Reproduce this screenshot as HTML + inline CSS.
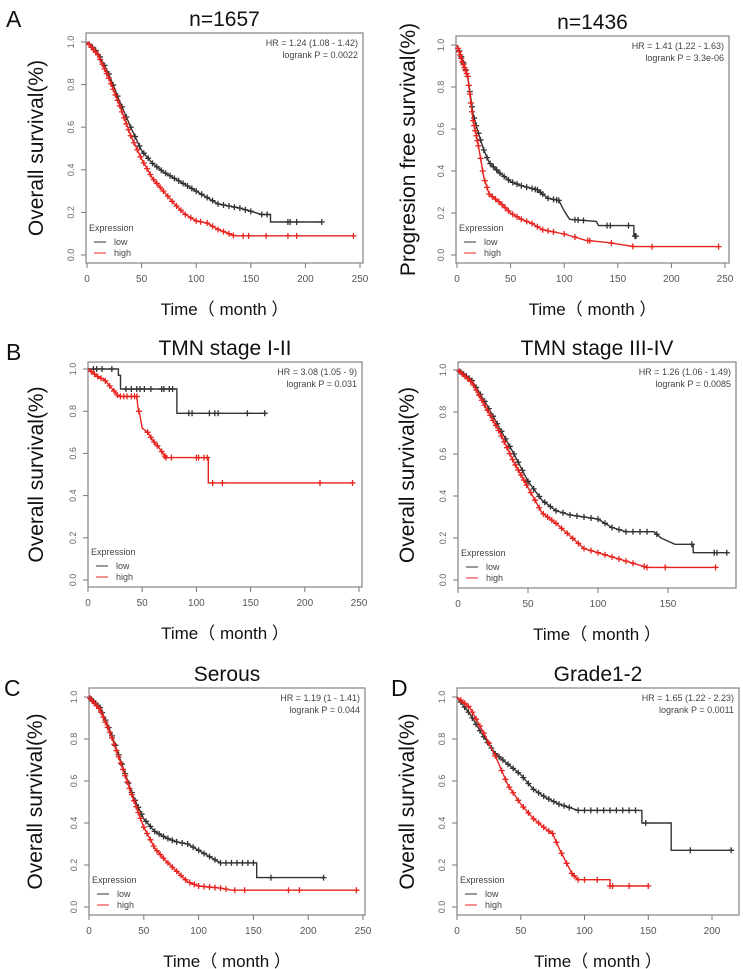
<!DOCTYPE html>
<html><head><meta charset="utf-8"><style>
html,body{margin:0;padding:0;background:#fff;}
svg{display:block;font-family:"Liberation Sans","Noto Sans CJK SC",sans-serif;}
</style></head><body>
<svg id="fig" width="743" height="969" viewBox="0 0 743 969" xmlns="http://www.w3.org/2000/svg"></svg>
<script>
// ---- Data (time in months, survival proportion) ----
const a1LowT=[0,10,20,30,40,50,60,70,80,90,100,110,120,140,160,168,168,215];
const a1LowS=[1,0.95,0.85,0.72,0.6,0.49,0.43,0.39,0.36,0.33,0.3,0.27,0.24,0.22,0.19,0.19,0.155,0.155];
const a1HighT=[0,10,20,30,40,50,60,70,80,90,100,110,120,130,135,244];
const a1HighS=[1,0.94,0.83,0.7,0.56,0.45,0.36,0.3,0.24,0.19,0.16,0.15,0.12,0.1,0.09,0.09];
const a1LowC=[2,5,8,12,16,20,24,28,32,36,40,44,48,52,56,60,64,68,72,76,80,84,88,92,96,100,105,110,115,120,125,130,135,140,145,150,160,165,184,186,192,215];
const a1HighC=[2,4,6,8,10,12,14,16,18,20,22,24,26,28,30,32,34,36,38,40,43,46,49,52,55,58,61,64,67,70,74,78,82,86,90,95,100,104,110,115,120,125,130,134,143,148,164,184,192,244];

const a2LowT=[0,5,10,15,20,25,30,40,50,60,75,85,95,100,105,130,132,165,165,167];
const a2LowS=[1,0.93,0.85,0.67,0.58,0.5,0.44,0.39,0.35,0.33,0.31,0.27,0.26,0.21,0.17,0.16,0.14,0.14,0.09,0.09];
const a2HighT=[0,5,10,15,20,25,30,40,50,60,70,80,100,120,140,165,244];
const a2HighS=[1,0.92,0.85,0.64,0.52,0.37,0.29,0.25,0.2,0.17,0.15,0.12,0.1,0.07,0.06,0.04,0.04];
const a2LowC=[2,4,6,8,10,12,14,16,18,20,22,25,28,31,34,37,40,44,48,52,56,60,65,70,73,75,78,80,85,90,93,95,110,113,118,140,143,160,166,167];
const a2HighC=[1,2,3,4,5,6,7,8,9,10,11,12,13,14,15,16,17,18,19,20,22,24,26,28,30,33,36,39,42,45,48,52,56,60,65,70,75,80,85,90,100,110,122,124,144,164,182,244];

const b1LowT=[0,28,28,30,30,82,82,163];
const b1LowS=[1,1,0.97,0.97,0.905,0.905,0.79,0.79];
const b1HighT=[0,5,10,15,20,25,28,45,46,48,50,55,60,65,72,111,111,244];
const b1HighS=[1,0.98,0.96,0.95,0.92,0.89,0.87,0.87,0.82,0.78,0.72,0.7,0.66,0.63,0.58,0.58,0.46,0.46];
const b1LowC=[5,8,13,22,35,40,45,48,52,58,68,70,75,78,93,96,112,117,120,147,163];
const b1HighC=[3,6,9,12,16,20,24,27,30,33,36,40,43,45,47,55,58,61,64,68,71,72,77,100,102,107,110,115,124,214,244];

const b2LowT=[0,10,20,30,40,50,60,70,80,100,110,120,140,145,155,168,168,192];
const b2LowS=[1,0.95,0.84,0.72,0.6,0.47,0.38,0.33,0.31,0.29,0.25,0.23,0.23,0.2,0.17,0.17,0.13,0.13];
const b2HighT=[0,10,20,30,40,50,60,70,80,90,100,110,120,130,135,184];
const b2HighS=[1,0.94,0.82,0.7,0.56,0.44,0.32,0.27,0.21,0.15,0.13,0.11,0.09,0.07,0.06,0.06];
const b2LowC=[2,4,6,8,10,13,16,19,22,25,28,31,34,37,40,43,46,50,54,58,62,66,70,75,80,85,90,95,100,105,110,115,120,125,130,135,142,167,183,185,192];
const b2HighC=[1,3,5,7,9,11,13,15,17,19,21,23,25,27,29,31,33,35,37,39,41,43,45,47,49,52,55,58,61,64,67,70,74,78,82,86,90,95,100,105,110,115,120,125,133,135,148,184];

const cLowT=[0,10,20,30,40,50,60,70,80,90,100,110,120,153,153,215];
const cLowS=[1,0.95,0.83,0.68,0.53,0.42,0.36,0.33,0.31,0.3,0.27,0.24,0.21,0.21,0.14,0.14];
const cHighT=[0,10,20,30,40,50,60,70,80,90,100,120,130,244];
const cHighS=[1,0.94,0.82,0.67,0.52,0.38,0.28,0.22,0.17,0.12,0.1,0.09,0.08,0.08];
const cLowC=[2,4,6,8,10,12,15,18,21,24,27,30,33,36,39,42,45,48,52,56,60,64,68,72,76,80,85,90,95,100,105,110,115,120,125,130,135,140,145,150,166,214];
const cHighC=[1,3,5,7,9,11,13,15,17,19,21,23,25,27,29,31,33,35,37,39,41,43,45,47,50,53,56,59,62,65,68,72,76,80,84,88,92,96,100,105,110,115,120,125,133,142,182,192,244];

const dLowT=[0,10,20,30,40,50,60,70,80,90,95,145,145,168,168,215];
const dLowS=[1,0.92,0.82,0.73,0.68,0.63,0.56,0.52,0.49,0.47,0.46,0.46,0.4,0.4,0.27,0.27];
const dHighT=[0,10,20,30,40,50,60,70,75,80,85,90,95,120,120,150];
const dHighS=[1,0.95,0.84,0.72,0.58,0.49,0.42,0.37,0.35,0.28,0.22,0.16,0.13,0.13,0.1,0.1];
const dLowC=[3,6,9,12,15,18,21,24,27,30,33,36,40,44,48,52,56,60,64,68,72,76,80,84,88,95,100,105,110,115,120,125,130,135,140,148,183,215];
const dHighC=[3,6,9,12,15,18,21,25,30,35,38,41,44,48,52,56,60,64,68,72,75,78,82,86,90,92,95,100,110,120,122,135,150];

const xTicksA=[0,50,100,150,200,250];
const xTicksB2=[0,50,100,150];
const xTicksD=[0,50,100,150,200];
const yTicks=[0,0.2,0.4,0.6,0.8,1.0];
const titles=["n=1657","n=1436","TMN stage I-II","TMN stage III-IV","Serous","Grade1-2"];
const hrTexts=["HR = 1.24 (1.08 - 1.42)","HR = 1.41 (1.22 - 1.63)","HR = 3.08 (1.05 - 9)","HR = 1.26 (1.06 - 1.49)","HR = 1.19 (1 - 1.41)","HR = 1.65 (1.22 - 2.23)"];
const pTexts=["logrank P = 0.0022","logrank P = 3.3e-06","logrank P = 0.031","logrank P = 0.0085","logrank P = 0.044","logrank P = 0.0011"];

// ---- Layout ----
const NS="http://www.w3.org/2000/svg";
const svg=document.getElementById('fig');
function mk(tag,attrs,parent,text){
  const e=document.createElementNS(NS,tag);
  for(const k in attrs)e.setAttribute(k,attrs[k]);
  if(text!==undefined)e.textContent=text;
  (parent||svg).appendChild(e);return e;
}
const panels=[
 {box:[86,33,363,263],x0:87,x1:360,xmax:250,y1:42,y0:255,ticks:xTicksA,ylab:"Overall survival(%)",ylx:43,d:[a1LowT,a1LowS,a1LowC,a1HighT,a1HighS,a1HighC],letter:"A",lx:6,ly:27,name:"panel-a-overall"},
 {box:[456,36,729,263],x0:457,x1:725,xmax:250,y1:45,y0:255,ticks:xTicksA,ylab:"Progresion free survival(%)",ylx:415,d:[a2LowT,a2LowS,a2LowC,a2HighT,a2HighS,a2HighC],name:"panel-a-pfs"},
 {box:[88,362,362,587],x0:88,x1:359,xmax:250,y1:369,y0:580,ticks:xTicksA,ylab:"Overall survival(%)",ylx:43,d:[b1LowT,b1LowS,b1LowC,b1HighT,b1HighS,b1HighC],letter:"B",lx:6,ly:360,name:"panel-b-stage12"},
 {box:[458,362,736,588],x0:458,x1:668,xmax:150,y1:370,y0:580,ticks:xTicksB2,ylab:"Overall survival(%)",ylx:414,d:[b2LowT,b2LowS,b2LowC,b2HighT,b2HighS,b2HighC],name:"panel-b-stage34"},
 {box:[89,688,365,915],x0:89,x1:363,xmax:250,y1:697,y0:907,ticks:xTicksA,ylab:"Overall survival(%)",ylx:42,d:[cLowT,cLowS,cLowC,cHighT,cHighS,cHighC],letter:"C",lx:4,ly:696,name:"panel-c-serous"},
 {box:[457,688,739,915],x0:457,x1:712,xmax:200,y1:697,y0:907,ticks:xTicksD,ylab:"Overall survival(%)",ylx:414,d:[dLowT,dLowS,dLowC,dHighT,dHighS,dHighC],letter:"D",lx:391,ly:696,name:"panel-d-grade12"}
];
function interp(T,S,t){
  for(let i=T.length-1;i>=0;i--){ if(T[i]<=t){ if(i===T.length-1)return S[i]; const t0=T[i],t1=T[i+1]; if(t1===t0)return S[i+1]; return S[i]+(S[i+1]-S[i])*(t-t0)/(t1-t0);} }
  return S[0];
}
panels.forEach((p,pi)=>{
  const g=mk('g',{});
  
  
  const xs=t=>p.x0+(p.x1-p.x0)*t/p.xmax;
  const ys=s=>p.y0+(p.y1-p.y0)*s;
  const [bx0,by0,bx1,by1]=p.box;
  const cx=(bx0+bx1)/2;
  if(p.letter){const L=mk('text',{x:p.lx,y:p.ly,'font-size':23,fill:'#111'},g,p.letter);}
  const tt=mk('text',{x:cx,y:by0-7,'font-size':21,'text-anchor':'middle',fill:'#111'},g,titles[pi]);
  
  const bx=mk('rect',{x:bx0,y:by0,width:bx1-bx0,height:by1-by0,fill:'none',stroke:'#8a8080','stroke-width':1.2},g);
  
  yTicks.forEach(v=>{
    const y=ys(v);
    mk('line',{x1:bx0-5,x2:bx0,y1:y,y2:y,stroke:'#777','stroke-width':1},g);
    const tx=mk('text',{x:bx0-12,y:y,'font-size':9,fill:'#666','text-anchor':'middle',transform:`rotate(-90 ${bx0-12} ${y})`},g,v.toFixed(1));
    
  });
  p.ticks.forEach(v=>{
    const x=xs(v);
    mk('line',{x1:x,x2:x,y1:by1,y2:by1+5,stroke:'#777','stroke-width':1},g);
    const tx=mk('text',{x:x,y:by1+19,'font-size':10,fill:'#555','text-anchor':'middle'},g,String(v));
    
  });
  const yl=mk('text',{x:p.ylx,y:(by0+by1)/2,'font-size':21,fill:'#111','text-anchor':'middle',transform:`rotate(-90 ${p.ylx} ${(by0+by1)/2})`},g,p.ylab);
  
  const xl=mk('text',{x:cx,y:by1+52,'font-size':17,fill:'#111','text-anchor':'middle'},g,'Time（ month ）');
  
  const h=mk('text',{x:bx1-5,y:by0+13,'font-size':9,fill:'#444','text-anchor':'end'},g,hrTexts[pi]);
  
  const pp=mk('text',{x:bx1-5,y:by0+25,'font-size':9,fill:'#444','text-anchor':'end'},g,pTexts[pi]);
  
  const series=[[p.d[0],p.d[1],p.d[2],'#333','low'],[p.d[3],p.d[4],p.d[5],'#e8231f','high']];
  series.forEach(([T,S,C,col,nm])=>{
    let dstr='';
    T.forEach((t,i)=>{dstr+=(i?'L':'M')+xs(t).toFixed(1)+','+ys(S[i]).toFixed(1);});
    const path=mk('path',{d:dstr,fill:'none',stroke:col,'stroke-width':1.4},g);
    
    
    C.forEach(t=>{
      const x=xs(t),y=ys(interp(T,S,t));
      const c=mk('path',{d:`M${x-3},${y}H${x+3}M${x},${y-3}V${y+3}`,stroke:col,'stroke-width':1.3},g);
      
      
    });
  });
  const lg=mk('g',{},g);
  
  mk('text',{x:bx0+3,y:by1-32,'font-size':9,fill:'#444'},lg,'Expression');
  mk('line',{x1:bx0+8,x2:bx0+20,y1:by1-21,y2:by1-21,stroke:'#333','stroke-width':1},lg);
  const l1=mk('text',{x:bx0+28,y:by1-18,'font-size':9,fill:'#444'},lg,'low');
  
  mk('line',{x1:bx0+8,x2:bx0+20,y1:by1-10,y2:by1-10,stroke:'#e8231f','stroke-width':1},lg);
  const l2=mk('text',{x:bx0+28,y:by1-7,'font-size':9,fill:'#444'},lg,'high');
  
});
</script>
</body></html>
